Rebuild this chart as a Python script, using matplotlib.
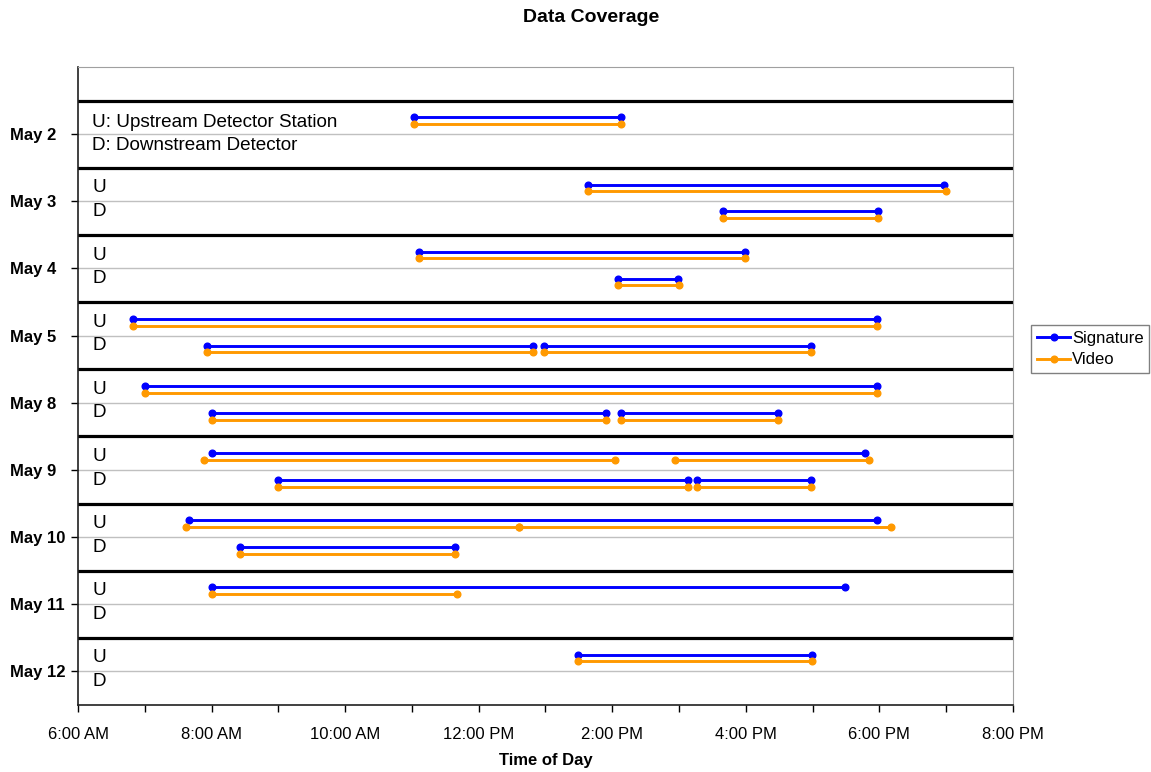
import matplotlib
matplotlib.use("Agg")
import matplotlib.pyplot as plt
from matplotlib.ticker import FixedLocator, FuncFormatter
from matplotlib.lines import Line2D

plt.rcParams['font.family'] = ['Liberation Sans', 'DejaVu Sans']

days = ["May 2", "May 3", "May 4", "May 5", "May 8", "May 9", "May 10", "May 11", "May 12"]

# (day, start hour, end hour) - hours of day as decimals
sig_up = [("May 2", 11.03, 14.13), ("May 3", 13.64, 18.97), ("May 4", 11.10, 15.98),
          ("May 5", 6.83, 17.97), ("May 8", 7.00, 17.97), ("May 9", 8.00, 17.79),
          ("May 10", 7.66, 17.97), ("May 11", 8.00, 17.49), ("May 12", 13.49, 16.99)]
vid_up = [("May 2", 11.03, 14.13), ("May 3", 13.64, 19.00), ("May 4", 11.10, 15.98),
          ("May 5", 6.83, 17.97), ("May 8", 7.00, 17.97), ("May 9", 7.89, 14.04),
          ("May 9", 14.94, 17.84), ("May 10", 7.61, 12.61), ("May 10", 12.61, 18.18),
          ("May 11", 8.00, 11.67), ("May 12", 13.49, 16.99)]
sig_down = [("May 3", 15.66, 17.98), ("May 4", 14.09, 14.98), ("May 5", 7.93, 12.82),
            ("May 5", 12.98, 16.97), ("May 8", 8.00, 13.91), ("May 8", 14.13, 16.48),
            ("May 9", 8.99, 15.14), ("May 9", 15.27, 16.97), ("May 10", 8.42, 11.64)]
vid_down = [("May 3", 15.66, 17.98), ("May 4", 14.09, 15.00), ("May 5", 7.93, 12.82),
            ("May 5", 12.98, 16.97), ("May 8", 8.01, 13.91), ("May 8", 14.13, 16.48),
            ("May 9", 8.99, 15.14), ("May 9", 15.27, 16.97), ("May 10", 8.42, 11.64)]

BLUE = "#0000FF"
ORANGE = "#FF9900"


def day_center(day):
    # first day at the top
    return len(days) - days.index(day) - 0.5


def time_label(h, pos=None):
    h = int(round(h))
    if h % 2:
        return ""
    suffix = "AM" if h < 12 else "PM"
    hh = h % 12
    if hh == 0:
        hh = 12
    return f"{hh}:00 {suffix}"


fig = plt.figure(figsize=(11.51, 7.72), dpi=100)
ax = fig.add_axes([78 / 1151, 1 - 705 / 772, (1013 - 78) / 1151, (705 - 67) / 772])

# grid at day centres, thick separators between days
for d in days:
    ax.axhline(day_center(d), color="#c0c0c0", lw=1, zorder=1)
for k in range(1, len(days) + 1):
    ax.axhline(k, color="black", lw=2.3, zorder=2)

series = [(sig_up, 0.25, BLUE), (vid_up, 0.15, ORANGE),
          (sig_down, -0.15, BLUE), (vid_down, -0.25, ORANGE)]
for segs, off, col in series:
    for day, t0, t1 in segs:
        y = day_center(day) + off
        ax.plot([t0, t1], [y, y], color=col, lw=2.1, marker="o", markersize=4.8,
                solid_capstyle="butt", zorder=3)

# U / D labels
for i, d in enumerate(days):
    c = day_center(d)
    if i == 0:
        ax.text(6.21, c + 0.18, "U: Upstream Detector Station", fontsize=13.6, va="center")
        ax.text(6.21, c - 0.17, "D: Downstream Detector", fontsize=13.6, va="center")
    else:
        ax.text(6.21, c + 0.20, "U", fontsize=13.6, va="center")
        ax.text(6.21, c - 0.15, "D", fontsize=13.6, va="center")

ax.set_xlim(6, 20)
ax.set_ylim(0, len(days) + 0.5)
ax.xaxis.set_major_locator(FixedLocator(list(range(6, 21))))
ax.xaxis.set_major_formatter(FuncFormatter(time_label))
ax.set_yticks([day_center(d) for d in days])
ax.set_yticklabels(days, fontweight="bold", ha="left")
ax.tick_params(axis="x", direction="out", length=5, width=1, labelsize=12, pad=11)
ax.tick_params(axis="y", direction="out", length=5, width=1, labelsize=12, pad=44)

for s in ["top", "right"]:
    ax.spines[s].set_color("#a0a0a0")
for s in ["left", "bottom"]:
    ax.spines[s].set_color("#202020")
    ax.spines[s].set_linewidth(1.2)

fig.text(591 / 1151, 1 - 18 / 772, "Data Coverage", fontsize=14, fontweight="bold",
         ha="center", va="center")
fig.text(546 / 1151, 1 - 760 / 772, "Time of Day", fontsize=12, fontweight="bold",
         ha="center", va="center")

handles = [Line2D([], [], color=BLUE, lw=2.1, marker="o", markersize=4.8),
           Line2D([], [], color=ORANGE, lw=2.1, marker="o", markersize=4.8)]
leg = fig.legend(handles, ["Signature", "Video"], loc="center left",
                 bbox_to_anchor=(1031 / 1151, 1 - 349 / 772), fontsize=12,
                 frameon=True, fancybox=False, edgecolor="#808080", framealpha=1,
                 handlelength=2.0, handletextpad=0.1, borderpad=0.35, labelspacing=0.4,
                 borderaxespad=0)
leg.get_frame().set_linewidth(1)

fig.savefig("out.png", dpi=100)
